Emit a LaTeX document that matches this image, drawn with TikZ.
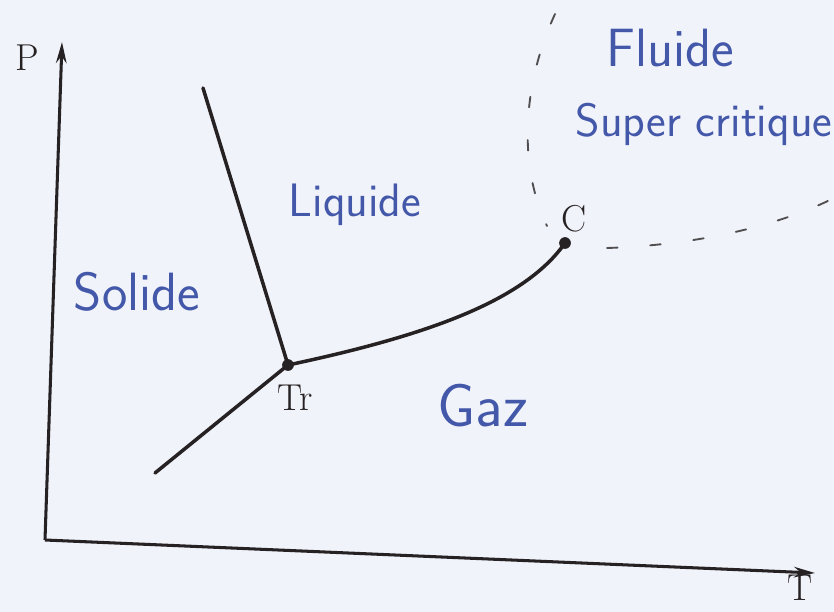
\documentclass[tikz,border=0pt]{standalone}
\usepackage{fontspec}
\usetikzlibrary{arrows.meta}
\definecolor{paper}{RGB}{241,243,250}
\definecolor{ink}{RGB}{38,34,36}
\definecolor{pen}{RGB}{68,88,170}
\tikzset{
  axis/.style={ink, line width=2.6pt, -{Stealth[length=18pt,width=9pt]}},
  curve/.style={ink, line width=3pt, line cap=round},
  dotpt/.style={circle, fill=ink, inner sep=0pt, minimum size=10pt},
  printlbl/.style={ink, font=\fontsize{32}{36}\selectfont, inner sep=0pt},
  handlbl/.style={pen, font=\sffamily\fontsize{46}{50}\selectfont, inner sep=0pt},
  limit/.style={ink!80, line width=1.6pt, dash pattern=on 9pt off 28pt, line cap=round}
}
\begin{document}
\begin{tikzpicture}[x=0.03cm,y=-0.03cm]
\fill[paper] (0,0) rectangle (834,612);
\useasboundingbox (0,0) rectangle (834,612);
% axes
\coordinate (o) at (45,540);
\coordinate (ptop) at (62,42);
\coordinate (tend) at (815,573);
\draw[axis] (o) -- (ptop);
\draw[axis] (o) -- (tend);
\node[printlbl] (plabel) at (27,58) {P};
\node[printlbl] (tlabel) at (800,588) {T};
% points
\node[dotpt] (tr) at (288,365) {};
\node[dotpt] (c) at (565,243) {};
\node[printlbl] (trlabel) at (295,398) {Tr};
\node[printlbl] (clabel) at (574,219) {C};
% curves
\coordinate (sub) at (155,473);
\coordinate (fus) at (203,88);
\draw[curve] (sub) -- (tr.center);
\draw[curve] (fus) -- (tr.center);
\draw[curve] (tr.center) .. controls (430,335) and (525,300) .. (c.center);
% dashed boundaries of the supercritical region
\coordinate (vtop) at (555,14);
\coordinate (vbot) at (547,226);
\coordinate (hleft) at (607,248);
\coordinate (hright) at (834,198);
\draw[limit] (vtop) .. controls (520,90) and (520,170) .. (vbot);
\draw[limit] (hleft) .. controls (700,245) and (780,225) .. (hright);
% handwritten labels
\node[handlbl] (solide) at (137,292) {Solide};
\node[handlbl, font=\sffamily\fontsize{40}{44}\selectfont] (liquide) at (355,205) {Liquide};
\node[handlbl, font=\sffamily\fontsize{52}{56}\selectfont] (gaz) at (483,406) {Gaz};
\node[handlbl] (fluide) at (670,48) {Fluide};
\node[handlbl, font=\sffamily\fontsize{40}{44}\selectfont] (super) at (704,124) {Super critique};
\end{tikzpicture}
\end{document}
